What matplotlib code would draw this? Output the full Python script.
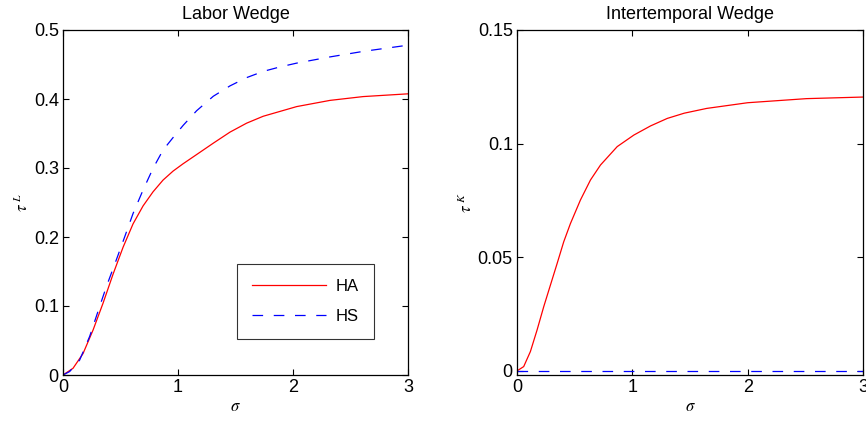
import matplotlib
matplotlib.use('Agg')
import matplotlib.pyplot as plt

plt.rcParams['font.family'] = ['Liberation Sans', 'DejaVu Sans']
plt.rcParams['mathtext.fontset'] = 'stix'

# labor wedge, values
labor_ha_sigma = [0, 0.087, 0.174, 0.261, 0.348, 0.435, 0.522, 0.609, 0.696,
                  0.783, 0.870, 0.957, 1.043, 1.162, 1.307, 1.452, 1.597,
                  1.741, 2.032, 2.322, 2.61, 3.0]
labor_ha = [0, 0.0097, 0.031, 0.065, 0.104, 0.146, 0.185, 0.219, 0.245,
            0.2655, 0.2825, 0.2955, 0.306, 0.3195, 0.336, 0.352, 0.365,
            0.375, 0.389, 0.398, 0.4035, 0.4075]

labor_hs_sigma = [0, 0.058, 0.145, 0.232, 0.304, 0.377, 0.464, 0.536, 0.609,
                  0.696, 0.783, 0.870, 0.971, 1.046, 1.162, 1.307, 1.452,
                  1.597, 1.741, 1.887, 2.032, 2.322, 2.61, 3.0]
labor_hs = [0, 0.005, 0.0217, 0.056, 0.092, 0.128, 0.167, 0.200, 0.234,
            0.268, 0.2995, 0.326, 0.347, 0.362, 0.383, 0.404, 0.419, 0.431,
            0.440, 0.4465, 0.452, 0.461, 0.469, 0.478]

# intertemporal wedge
inter_ha_sigma = [0, 0.058, 0.116, 0.174, 0.232, 0.29, 0.3475, 0.405, 0.463,
                  0.550, 0.637, 0.724, 0.869, 1.014, 1.158, 1.303, 1.45,
                  1.645, 2.0, 2.51, 3.0]
inter_ha = [0, 0.0019, 0.0085, 0.018, 0.0283, 0.0378, 0.0472, 0.0568, 0.0648,
            0.0752, 0.084, 0.0906, 0.0987, 0.1038, 0.1078, 0.1111, 0.1134,
            0.1155, 0.118, 0.1198, 0.1205]

inter_hs_sigma = [0, 3.0]
inter_hs = [0, 0]

fig = plt.figure(figsize=(8.66, 4.21), dpi=100)
ax1 = fig.add_axes([63 / 866, 46 / 421, 345 / 866, 345 / 421])
ax2 = fig.add_axes([517 / 866, 46 / 421, 346 / 866, 345 / 421])

dash = (0, (8.5, 8.5))
lw = 0.9

ax1.plot(labor_ha_sigma, labor_ha, color='#ff0000', lw=lw, label='HA')
ax1.plot(labor_hs_sigma, labor_hs, color='#0000ff', lw=lw, linestyle=dash,
         label='HS')
ax1.set_xlim(0, 3)
ax1.set_ylim(0, 0.5)
ax1.set_xticks([0, 1, 2, 3])
ax1.set_yticks([0, 0.1, 0.2, 0.3, 0.4, 0.5])
ax1.set_yticklabels(['0', '0.1', '0.2', '0.3', '0.4', '0.5'])
ax1.set_title('Labor Wedge', fontsize=13, pad=8)
ax1.set_ylabel(r'$\tau^{\ L}$', fontsize=12, labelpad=2)
ax1.set_xlabel(r'$\sigma$', fontsize=12, labelpad=2)
leg = ax1.legend(loc='lower right', bbox_to_anchor=(0.925, 0.081),
                 fontsize=12, handlelength=4.4, frameon=True, fancybox=False,
                 borderpad=0.9, labelspacing=0.9, handletextpad=0.6)
leg.get_frame().set_edgecolor('black')
leg.get_frame().set_linewidth(0.8)

ax2.plot(inter_ha_sigma, inter_ha, color='#ff0000', lw=lw)
ax2.plot(inter_hs_sigma, inter_hs, color='#0000ff', lw=lw, linestyle=dash)
ax2.set_xlim(0, 3)
ax2.set_ylim(-0.0018, 0.15)
ax2.set_xticks([0, 1, 2, 3])
ax2.set_yticks([0, 0.05, 0.1, 0.15])
ax2.set_yticklabels(['0', '0.05', '0.1', '0.15'])
ax2.set_title('Intertemporal Wedge', fontsize=13, pad=8)
ax2.set_ylabel(r'$\tau^{\ K}$', fontsize=12, labelpad=2)
ax2.set_xlabel(r'$\sigma$', fontsize=12, labelpad=2)

for ax in (ax1, ax2):
    ax.tick_params(direction='in', length=4, width=0.8, labelsize=13,
                   top=True, right=True, pad=3)
    for s in ax.spines.values():
        s.set_linewidth(0.9)

fig.savefig('out.png', dpi=100)
